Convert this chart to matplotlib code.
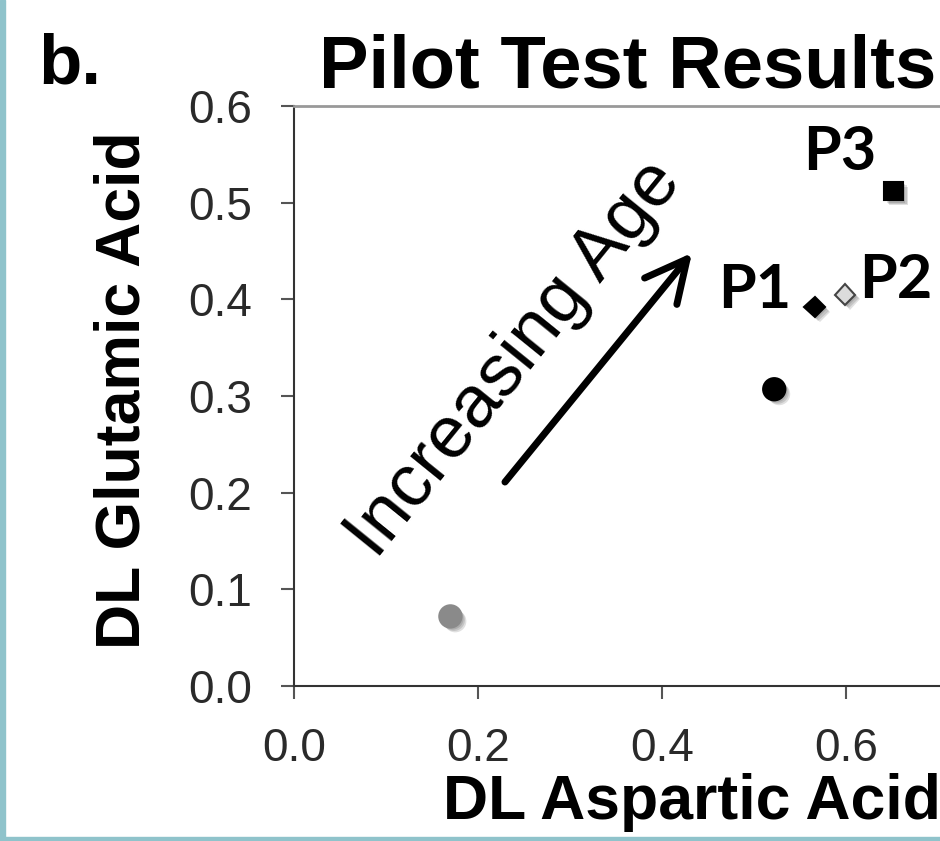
import matplotlib
matplotlib.use("Agg")
import matplotlib.pyplot as plt
import matplotlib.patheffects as pe
from matplotlib.patches import Rectangle

plt.rcParams['font.family'] = ['Liberation Sans', 'DejaVu Sans']

# D/L ratios for each sample
dl_asp = [0.170, 0.522, 0.566, 0.599, 0.652]
dl_glu = [0.072, 0.307, 0.392, 0.405, 0.512]
markers = ['o', 'o', 'D', 'D', 's']
face_colors = ['#8a8a8a', 'black', 'black', '#dcdcdc', 'black']
edge_colors = ['#8a8a8a', 'black', 'black', '#444444', 'black']
marker_sizes = [16, 16, 10.5, 10.5, 13.5]

# pilot sample labels: (text, x, y)
pilot_labels = [('P1', 0.461, 0.391), ('P2', 0.614, 0.401), ('P3', 0.553, 0.534)]

xticks = [0.0, 0.2, 0.4, 0.6]
yticks = [0.0, 0.1, 0.2, 0.3, 0.4, 0.5, 0.6]

fig = plt.figure(figsize=(9.4, 8.41), dpi=100)
ax = fig.add_axes([294 / 940, 155 / 841, 736 / 940, 580 / 841])
ax.set_xlim(0, 0.8)
ax.set_ylim(0, 0.6)

# soft drop shadow under each marker
shadow = [pe.SimplePatchShadow(offset=(o, -o), shadow_rgbFace='black', alpha=0.12)
          for o in (1.5, 2.5, 3.5)] + [pe.Normal()]

for x, y, m, fc, ec, ms in zip(dl_asp, dl_glu, markers, face_colors, edge_colors, marker_sizes):
    ax.plot([x], [y], marker=m, linestyle='none', markersize=ms,
            markerfacecolor=fc, markeredgecolor=ec, markeredgewidth=1.5,
            path_effects=shadow, zorder=3)

for txt, x, y in pilot_labels:
    ax.text(x, y, txt, family='Lato', fontweight='bold', fontsize=44,
            ha='left', va='baseline', color='black')

# age arrow and its label
ax.annotate('', xy=(0.4326, 0.448), xytext=(0.2293, 0.211),
            arrowprops=dict(arrowstyle='->, head_length=1.0, head_width=0.5',
                            lw=5, color='black', mutation_scale=30,
                            shrinkA=0, shrinkB=0))
ax.text(0.240, 0.338, 'Increasing Age', fontsize=53, rotation=51,
        rotation_mode='anchor', ha='center', va='center', color='black')

ax.set_xticks(xticks)
ax.set_yticks(yticks)
ax.set_xticklabels(['%.1f' % v for v in xticks])
ax.set_yticklabels(['%.1f' % v for v in yticks])
ax.tick_params(axis='both', direction='out', length=9.5, width=1.5,
               colors='#555555', labelcolor='#2a2a2a', labelsize=33)
ax.tick_params(axis='y', pad=21)
ax.tick_params(axis='x', pad=20)

for side in ['left', 'bottom']:
    ax.spines[side].set_color('#333333')
    ax.spines[side].set_linewidth(1.5)
ax.spines['top'].set_color('#999999')
ax.spines['top'].set_linewidth(2)
ax.spines['right'].set_color('#999999')

ax.set_xlabel('DL Aspartic Acid', fontsize=45, fontweight='bold')
ax.set_ylabel('DL Glutamic Acid', fontsize=45, fontweight='bold')
ax.xaxis.set_label_coords(0.540, -0.150)
ax.yaxis.set_label_coords(-0.1916, 0.510)

fig.text(319 / 940, 1 - 88 / 841, 'Pilot Test Results', fontsize=53.5,
         fontweight='bold', ha='left', va='baseline')
fig.text(38 / 940, 1 - 83 / 841, 'b.', fontsize=51, fontweight='bold',
         ha='left', va='baseline')

# slide frame on the left and bottom edges
fig.patches.append(Rectangle((0, 0), 5 / 940, 1, transform=fig.transFigure,
                             color='#8fc3cb', zorder=10))
fig.patches.append(Rectangle((0, 0), 1, 4 / 841, transform=fig.transFigure,
                             color='#8fc3cb', zorder=10))

fig.savefig('out.png', dpi=100)
